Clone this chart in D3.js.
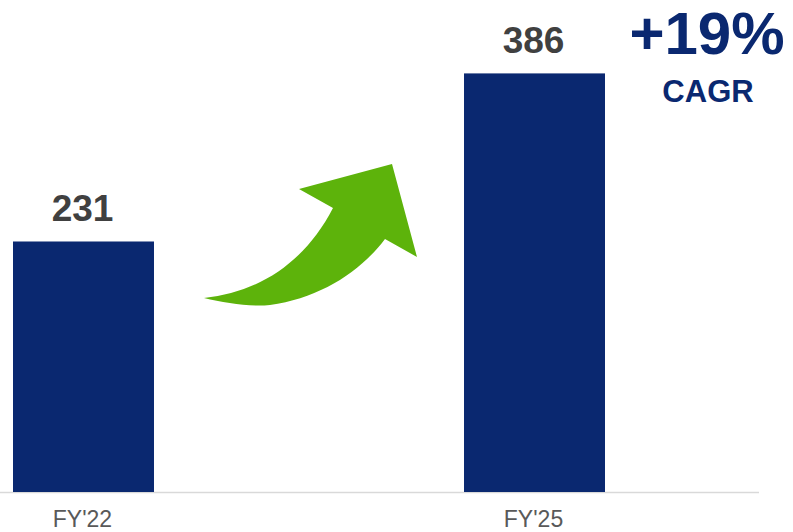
<!DOCTYPE html>
<html>
<head>
<meta charset="utf-8">
<script src="https://cdn.jsdelivr.net/npm/d3@7"></script>
<style>
  html, body { margin: 0; padding: 0; background: #ffffff; }
  svg { display: block; font-family: "Liberation Sans", Arial, sans-serif; }
</style>
</head>
<body>
<svg id="chart" width="793" height="532"></svg>
<script>
// Fiscal years and their values
const categories = ["FY'22", "FY'25"];
const values = [231, 386];
const growthLabel = "+19%";
const growthSub = "CAGR";

const navy = "#0a2870";
const green = "#5db30b";

const svg = d3.select("#chart");

const x = d3.scaleBand()
  .domain(categories)
  .range([13, 605])
  .paddingInner(0.6874)
  .paddingOuter(0);

const y = d3.scaleLinear()
  .domain([0, 450])
  .range([492, 4]);

// Baseline
svg.append("line")
  .attr("x1", 0).attr("x2", 759)
  .attr("y1", y(0) + 0.5).attr("y2", y(0) + 0.5)
  .attr("stroke", "#d9d9d9")
  .attr("stroke-width", 1.5);

// Bars
svg.selectAll("rect.bar")
  .data(values)
  .join("rect")
  .attr("class", "bar")
  .attr("x", (d, i) => x(categories[i]))
  .attr("y", d => y(d))
  .attr("width", x.bandwidth())
  .attr("height", d => y(0) - y(d))
  .attr("fill", navy);

// Value labels above the bars
svg.selectAll("text.value")
  .data(values)
  .join("text")
  .attr("class", "value")
  .attr("x", (d, i) => x(categories[i]) + x.bandwidth() / 2 - 1)
  .attr("y", d => y(d) - 20)
  .attr("text-anchor", "middle")
  .attr("font-size", 37)
  .attr("font-weight", "bold")
  .attr("fill", "#404040")
  .text(d => d);

// Category labels
svg.selectAll("text.cat")
  .data(categories)
  .join("text")
  .attr("class", "cat")
  .attr("x", d => x(d) + x.bandwidth() / 2 - 1)
  .attr("y", 527)
  .attr("text-anchor", "middle")
  .attr("font-size", 23)
  .attr("fill", "#595959")
  .text(d => d);

// Curved growth arrow between the bars
svg.append("path")
  .attr("d", "M204,298 C260,292 305,262 333,208 L299,189 L392,164 L417,257 L385,239 " +
             "C360,272 320,298 270,305 C250,307 225,303 204,298 Z")
  .attr("fill", green);

// Growth rate callout
svg.append("text")
  .attr("x", 707)
  .attr("y", 54)
  .attr("text-anchor", "middle")
  .attr("font-size", 60)
  .attr("font-weight", "bold")
  .attr("fill", navy)
  .text(growthLabel);

svg.append("text")
  .attr("x", 708)
  .attr("y", 102)
  .attr("text-anchor", "middle")
  .attr("font-size", 31)
  .attr("font-weight", "bold")
  .attr("fill", navy)
  .text(growthSub);
</script>
</body>
</html>
